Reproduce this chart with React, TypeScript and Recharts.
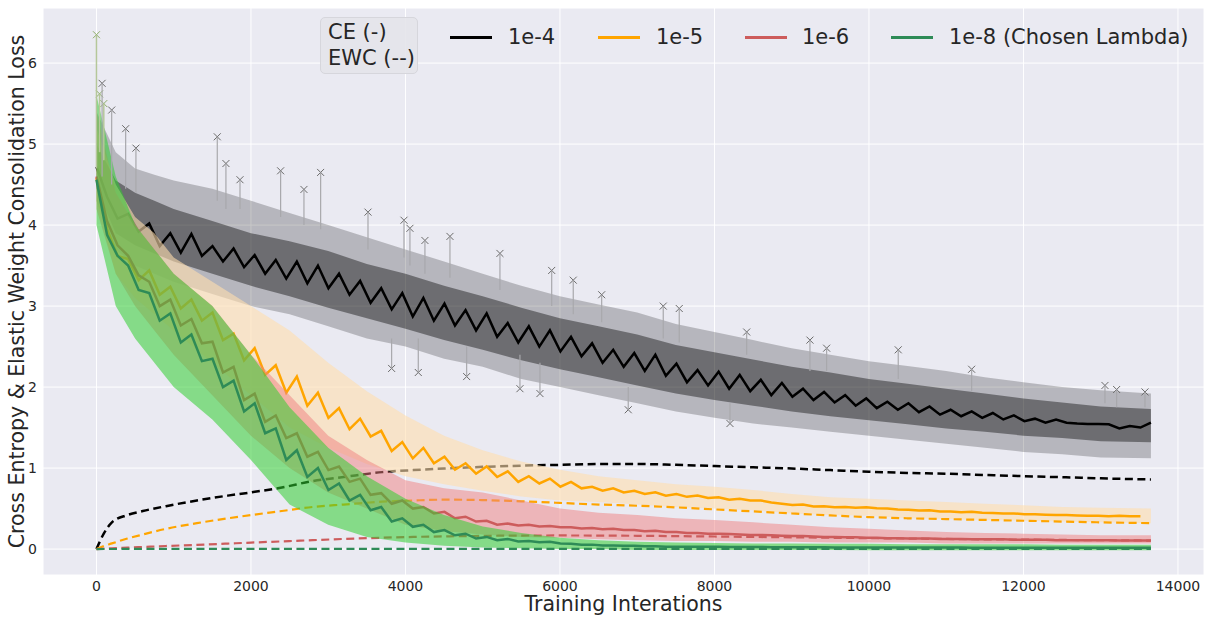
import React from 'react';
import {
    Area,
    CartesianGrid,
    ComposedChart,
    ErrorBar,
    Line,
    Scatter,
    XAxis,
    YAxis
} from 'recharts';

// training iterations (half-epoch steps) for the smoothed CE curves
const iterations = [0, 137, 273, 410, 546, 683, 819, 956, 1092, 1229, 1365, 1502, 1638, 1775, 1911, 2048, 2184, 2321, 2457, 2594, 2730, 2867, 3003, 3140, 3276, 3413, 3549, 3686, 3822, 3959, 4095, 4232, 4368, 4505, 4641, 4778, 4914, 5051, 5187, 5324, 5460, 5597, 5733, 5870, 6006, 6143, 6279, 6416, 6552, 6689, 6825, 6962, 7098, 7235, 7371, 7508, 7644, 7781, 7917, 8054, 8190, 8327, 8463, 8600, 8736, 8873, 9009, 9146, 9282, 9419, 9555, 9692, 9828, 9965, 10101, 10238, 10374, 10511, 10647, 10784, 10920, 11057, 11193, 11330, 11466, 11603, 11739, 11876, 12012, 12149, 12285, 12422, 12558, 12695, 12831, 12968, 13104, 13241, 13377, 13514, 13650];

const ce1e4 = [4.72, 4.35, 4.08, 4.14, 3.92, 4.02, 3.74, 3.90, 3.66, 3.89, 3.62, 3.74, 3.55, 3.71, 3.48, 3.63, 3.40, 3.57, 3.34, 3.55, 3.28, 3.50, 3.22, 3.40, 3.14, 3.31, 3.04, 3.22, 2.96, 3.16, 2.87, 3.10, 2.82, 3.03, 2.76, 2.95, 2.70, 2.91, 2.62, 2.79, 2.55, 2.75, 2.50, 2.70, 2.44, 2.62, 2.38, 2.54, 2.30, 2.46, 2.25, 2.42, 2.20, 2.40, 2.14, 2.29, 2.06, 2.21, 2.02, 2.19, 1.98, 2.15, 1.95, 2.09, 1.90, 2.05, 1.88, 1.98, 1.84, 1.94, 1.81, 1.90, 1.77, 1.86, 1.74, 1.82, 1.72, 1.80, 1.69, 1.76, 1.66, 1.72, 1.64, 1.70, 1.62, 1.68, 1.60, 1.65, 1.58, 1.61, 1.56, 1.60, 1.56, 1.55, 1.545, 1.545, 1.54, 1.49, 1.52, 1.50, 1.56];
const ce1e5 = [4.58, 3.95, 3.62, 3.58, 3.32, 3.44, 3.14, 3.24, 2.97, 3.08, 2.82, 2.92, 2.58, 2.66, 2.33, 2.48, 2.15, 2.27, 1.93, 2.13, 1.77, 1.93, 1.62, 1.74, 1.48, 1.61, 1.39, 1.46, 1.21, 1.32, 1.12, 1.25, 1.06, 1.14, 0.98, 1.06, 0.93, 1.02, 0.89, 0.96, 0.83, 0.90, 0.81, 0.87, 0.77, 0.83, 0.75, 0.77, 0.72, 0.75, 0.70, 0.72, 0.68, 0.70, 0.66, 0.68, 0.645, 0.66, 0.63, 0.64, 0.61, 0.62, 0.60, 0.60, 0.575, 0.56, 0.545, 0.55, 0.525, 0.53, 0.515, 0.52, 0.51, 0.515, 0.505, 0.50, 0.49, 0.485, 0.475, 0.48, 0.465, 0.465, 0.455, 0.46, 0.45, 0.445, 0.44, 0.44, 0.43, 0.43, 0.425, 0.42, 0.42, 0.415, 0.41, 0.41, 0.405, 0.41, 0.405, 0.405, null];
const ce1e6 = [4.60, 4.05, 3.75, 3.62, 3.38, 3.30, 3.00, 3.08, 2.76, 2.84, 2.54, 2.56, 2.18, 2.25, 1.84, 1.92, 1.57, 1.65, 1.37, 1.43, 1.14, 1.20, 0.975, 1.02, 0.83, 0.87, 0.67, 0.69, 0.56, 0.60, 0.50, 0.52, 0.44, 0.46, 0.38, 0.40, 0.34, 0.35, 0.30, 0.315, 0.29, 0.30, 0.28, 0.285, 0.27, 0.27, 0.255, 0.26, 0.245, 0.25, 0.235, 0.235, 0.22, 0.225, 0.21, 0.21, 0.20, 0.20, 0.19, 0.19, 0.185, 0.18, 0.175, 0.175, 0.17, 0.165, 0.16, 0.16, 0.155, 0.15, 0.15, 0.145, 0.145, 0.14, 0.14, 0.135, 0.135, 0.13, 0.13, 0.13, 0.125, 0.125, 0.125, 0.12, 0.12, 0.12, 0.12, 0.115, 0.115, 0.115, 0.115, 0.11, 0.11, 0.11, 0.11, 0.11, 0.11, 0.105, 0.105, 0.105, 0.105];
const ce1e8 = [4.56, 3.88, 3.62, 3.50, 3.20, 3.16, 2.82, 2.91, 2.55, 2.65, 2.32, 2.35, 2.00, 2.08, 1.70, 1.80, 1.43, 1.49, 1.10, 1.22, 0.89, 1.00, 0.73, 0.81, 0.60, 0.67, 0.48, 0.52, 0.34, 0.38, 0.275, 0.30, 0.21, 0.235, 0.17, 0.19, 0.13, 0.15, 0.11, 0.125, 0.095, 0.10, 0.085, 0.09, 0.07, 0.065, 0.055, 0.055, 0.045, 0.045, 0.04, 0.04, 0.035, 0.035, 0.03, 0.03, 0.03, 0.03, 0.028, 0.028, 0.026, 0.026, 0.025, 0.025, 0.024, 0.024, 0.023, 0.023, 0.022, 0.022, 0.021, 0.021, 0.02, 0.02, 0.02, 0.02, 0.019, 0.019, 0.019, 0.019, 0.018, 0.018, 0.018, 0.017, 0.017, 0.017, 0.017, 0.016, 0.016, 0.016, 0.016, 0.016, 0.015, 0.015, 0.015, 0.015, 0.015, 0.015, 0.015, 0.015, 0.015];

// EWC penalty curves
const ewcIters = [0, 100, 200, 400, 600, 900, 1300, 1700, 2000, 2400, 2800, 3200, 3700, 4100, 4500, 5000, 5500, 6000, 6500, 7000, 7500, 8000, 8500, 9000, 9500, 10000, 10500, 11000, 11500, 12000, 12500, 13000, 13650];
const ewc1e4 = [0, 0.2, 0.33, 0.42, 0.47, 0.53, 0.6, 0.66, 0.7, 0.76, 0.84, 0.89, 0.95, 0.975, 0.995, 1.015, 1.03, 1.04, 1.05, 1.05, 1.04, 1.025, 1.01, 0.995, 0.975, 0.955, 0.94, 0.93, 0.915, 0.9, 0.887, 0.873, 0.86];
const ewc1e5 = [0, 0.04, 0.07, 0.13, 0.18, 0.25, 0.32, 0.38, 0.42, 0.47, 0.52, 0.55, 0.585, 0.6, 0.61, 0.605, 0.59, 0.57, 0.55, 0.535, 0.515, 0.49, 0.465, 0.44, 0.415, 0.395, 0.38, 0.37, 0.36, 0.35, 0.34, 0.33, 0.32];
const ewc1e6 = [0, 0.005, 0.01, 0.018, 0.026, 0.038, 0.052, 0.068, 0.08, 0.095, 0.11, 0.125, 0.14, 0.15, 0.157, 0.163, 0.167, 0.168, 0.167, 0.164, 0.16, 0.155, 0.15, 0.145, 0.14, 0.135, 0.13, 0.125, 0.12, 0.117, 0.113, 0.11, 0.105];
const ewc1e8 = [0, 0.001, 0.001, 0.002, 0.002, 0.002, 0.003, 0.003, 0.003, 0.003, 0.003, 0.003, 0.003, 0.003, 0.003, 0.003, 0.003, 0.003, 0.003, 0.003, 0.003, 0.003, 0.003, 0.003, 0.003, 0.003, 0.003, 0.003, 0.003, 0.003, 0.003, 0.003, 0.003];

// spread of the raw per-iteration losses
const bandIters = [0, 250, 500, 750, 1000, 1500, 2000, 2500, 3000, 3500, 4000, 4500, 5000, 5500, 6000, 6500, 7000, 7500, 8000, 8500, 9000, 9500, 10000, 10500, 11000, 11500, 12000, 12500, 13000, 13650];
const raw1e4Low = [4.3, 3.7, 3.5, 3.4, 3.3, 3.15, 3.0, 2.9, 2.75, 2.6, 2.5, 2.35, 2.25, 2.1, 2.0, 1.9, 1.8, 1.7, 1.62, 1.55, 1.5, 1.45, 1.4, 1.35, 1.3, 1.25, 1.2, 1.17, 1.13, 1.12];
const raw1e4High = [5.4, 4.9, 4.7, 4.62, 4.55, 4.45, 4.3, 4.15, 4.0, 3.85, 3.7, 3.55, 3.4, 3.25, 3.12, 3.02, 2.92, 2.78, 2.68, 2.58, 2.48, 2.4, 2.32, 2.26, 2.2, 2.12, 2.06, 2.0, 1.96, 1.92];
const raw1e4CoreLow = [4.45, 3.9, 3.75, 3.65, 3.55, 3.4, 3.25, 3.12, 2.98, 2.85, 2.72, 2.58, 2.46, 2.33, 2.22, 2.12, 2.02, 1.92, 1.84, 1.77, 1.7, 1.64, 1.59, 1.54, 1.49, 1.45, 1.4, 1.37, 1.33, 1.32];
const raw1e4CoreHigh = [5.0, 4.55, 4.4, 4.3, 4.2, 4.05, 3.9, 3.8, 3.68, 3.52, 3.4, 3.25, 3.12, 2.98, 2.85, 2.75, 2.65, 2.52, 2.43, 2.34, 2.25, 2.18, 2.1, 2.04, 1.98, 1.92, 1.86, 1.81, 1.76, 1.73];
const raw1e5Low = [4.3, 3.4, 3.1, 2.9, 2.7, 2.3, 1.9, 1.5, 1.25, 1.05, 0.9, 0.8, 0.72, 0.65, 0.6, 0.58, 0.55, 0.52, 0.5, 0.48, 0.44, 0.42, 0.41, 0.38, 0.37, 0.36, 0.35, 0.34, 0.33, 0.32];
const raw1e5High = [5.2, 4.5, 4.1, 3.9, 3.6, 3.3, 3.0, 2.7, 2.3, 1.95, 1.65, 1.4, 1.22, 1.08, 0.98, 0.9, 0.85, 0.8, 0.77, 0.73, 0.68, 0.64, 0.62, 0.6, 0.58, 0.56, 0.54, 0.52, 0.51, 0.5];
const raw1e6Low = [4.2, 3.4, 3.0, 2.7, 2.4, 1.9, 1.4, 1.0, 0.7, 0.5, 0.3, 0.22, 0.18, 0.15, 0.14, 0.12, 0.11, 0.1, 0.1, 0.09, 0.09, 0.08, 0.08, 0.08, 0.07, 0.07, 0.07, 0.07, 0.07, 0.07];
const raw1e6High = [5.4, 4.4, 4.0, 3.7, 3.4, 3.0, 2.4, 1.9, 1.4, 1.1, 0.85, 0.75, 0.7, 0.6, 0.5, 0.45, 0.42, 0.38, 0.36, 0.33, 0.3, 0.27, 0.25, 0.23, 0.21, 0.2, 0.19, 0.18, 0.17, 0.17];
const raw1e8Low = [4.0, 3.0, 2.6, 2.3, 2.0, 1.6, 1.1, 0.55, 0.3, 0.15, 0.08, 0.04, 0.02, 0.01, 0.0, 0.0, -0.01, -0.01, -0.01, -0.01, -0.01, -0.01, -0.015, -0.015, -0.015, -0.015, -0.015, -0.015, -0.015, -0.015];
const raw1e8High = [5.6, 4.6, 4.0, 3.7, 3.4, 3.0, 2.4, 1.75, 1.25, 0.9, 0.62, 0.42, 0.28, 0.2, 0.14, 0.11, 0.09, 0.08, 0.075, 0.07, 0.07, 0.065, 0.065, 0.06, 0.06, 0.06, 0.06, 0.055, 0.055, 0.055];

// outlier losses (marker value and the other end of its whisker)
const spike1e4Iters = [73, 197, 378, 511, 1564, 1676, 1858, 2384, 2686, 2902, 3515, 3821, 3981, 4058, 4166, 4252, 4576, 4792, 5223, 5482, 5741, 5893, 6172, 6540, 6884, 7337, 7544, 8201, 8417, 9236, 9452, 10379, 11329, 13055, 13206, 13573];
const spike1e4Vals = [5.75, 5.42, 5.19, 4.95, 5.09, 4.76, 4.56, 4.67, 4.44, 4.65, 4.16, 2.23, 4.06, 3.96, 2.18, 3.81, 3.86, 2.13, 3.65, 1.98, 1.92, 3.44, 3.32, 3.14, 1.72, 3.0, 2.97, 1.55, 2.68, 2.58, 2.48, 2.46, 2.22, 2.02, 1.97, 1.94];
const spike1e4Ends = [4.6, 4.5, 4.45, 4.4, 4.3, 4.2, 4.2, 4.1, 4.0, 3.95, 3.7, 2.6, 3.6, 3.5, 2.6, 3.4, 3.35, 2.5, 3.2, 2.4, 2.3, 3.0, 2.9, 2.8, 2.0, 2.6, 2.55, 1.8, 2.4, 2.2, 2.2, 2.1, 1.95, 1.8, 1.75, 1.75];
const spike1e8Iters = [0, 40, 95];
const spike1e8Vals = [6.35, 5.62, 5.5];
const spike1e8Ends = [4.7, 4.9, 4.8];

const xTicks = [0, 2000, 4000, 6000, 8000, 10000, 12000, 14000];
const yTicks = [0, 1, 2, 3, 4, 5, 6];

const FONT = "'DejaVu Sans', sans-serif";
const TEXT = '#262626';

const lineRows = (vals: (number | null)[]) => iterations.map((x, i) => ({ x, y: vals[i] }));
const ewcRows = (vals: number[]) => ewcIters.map((x, i) => ({ x, y: vals[i] }));
const bandRows = (lo: number[], hi: number[]) => bandIters.map((x, i) => ({ x, range: [lo[i], hi[i]] }));
const spikeRows = (xs: number[], vs: number[], ends: number[]) =>
    xs.map((x, i) => ({ x, y: vs[i], err: [Math.max(0, vs[i] - ends[i]), Math.max(0, ends[i] - vs[i])] }));

const XMark = (props: any) => {
    const { cx, cy, stroke } = props;
    if (cx == null || cy == null) return null;
    const s = 3.5;
    return (
        <path
            d={`M${cx - s},${cy - s}L${cx + s},${cy + s}M${cx - s},${cy + s}L${cx + s},${cy - s}`}
            stroke={stroke}
            strokeWidth={1}
            fill="none"
        />
    );
};

const series = [
    { name: '1e-4', color: '#000000', band: '#000000', bandOpacity: 0.22, ce: ce1e4, ewc: ewc1e4, ewcWidth: 2.5, lo: raw1e4Low, hi: raw1e4High },
    { name: '1e-5', color: '#FFA500', band: '#FFDEAD', bandOpacity: 0.6, ce: ce1e5, ewc: ewc1e5, ewcWidth: 2.2, lo: raw1e5Low, hi: raw1e5High },
    { name: '1e-6', color: '#CD5C5C', band: '#F08080', bandOpacity: 0.5, ce: ce1e6, ewc: ewc1e6, ewcWidth: 2.2, lo: raw1e6Low, hi: raw1e6High },
    { name: '1e-8 (Chosen Lambda)', color: '#2E8B57', band: '#32CD32', bandOpacity: 0.55, ce: ce1e8, ewc: ewc1e8, ewcWidth: 2.2, lo: raw1e8Low, hi: raw1e8High },
];

const legendItems = [
    { left: 450, text: 508 },
    { left: 598, text: 656 },
    { left: 745, text: 802 },
    { left: 891, text: 949 },
];

const App: React.FC = () => {
    // layer order follows the plotting order: each lambda's cloud, curve and penalty in turn
    let z = 110;
    const next = () => (z += 5);

    return (
        <div style={{ position: 'absolute', left: 0, top: 0, width: 1213, height: 617, background: '#fff', fontFamily: FONT }}>
            <ComposedChart width={1213} height={617} margin={{ top: 8, right: 9, left: 0, bottom: 0 }}>
                <CartesianGrid fill="#EAEAF2" stroke="#ffffff" strokeWidth={1} />
                <XAxis
                    type="number"
                    dataKey="x"
                    domain={[-692, 14337]}
                    ticks={xTicks}
                    allowDataOverflow
                    height={42}
                    axisLine={false}
                    tickLine={false}
                    tickSize={6}
                    tickMargin={0}
                    tick={{ fontSize: 14, fill: TEXT, fontFamily: FONT }}
                    label={{ value: 'Training Interations', position: 'insideBottom', offset: 6, fontSize: 20.5, fill: TEXT, fontFamily: FONT }}
                />
                <YAxis
                    type="number"
                    domain={[-0.32, 6.68]}
                    ticks={yTicks}
                    allowDataOverflow
                    width={43}
                    axisLine={false}
                    tickLine={false}
                    tickSize={6}
                    tickMargin={0}
                    tick={{ fontSize: 14, fill: TEXT, fontFamily: FONT }}
                    label={{
                        value: 'Cross Entropy & Elastic Weight Consolidation Loss',
                        angle: -90,
                        position: 'insideLeft',
                        offset: 16.5,
                        fontSize: 20.5,
                        fill: TEXT,
                        fontFamily: FONT,
                        style: { textAnchor: 'middle' }
                    }}
                />

                {series.map((s, idx) => [
                    <Area
                        key={`band-${idx}`}
                        zIndex={next()}
                        data={bandRows(s.lo, s.hi)}
                        dataKey="range"
                        type="linear"
                        stroke="none"
                        fill={s.band}
                        fillOpacity={s.bandOpacity}
                        isAnimationActive={false}
                    />,
                    idx === 0 ? (
                        <Area
                            key="core-0"
                            zIndex={next()}
                            data={bandRows(raw1e4CoreLow, raw1e4CoreHigh)}
                            dataKey="range"
                            type="linear"
                            stroke="none"
                            fill="#000000"
                            fillOpacity={0.4}
                            isAnimationActive={false}
                        />
                    ) : null,
                    idx === 0 ? (
                        <Scatter
                            key="spikes-0"
                            zIndex={next()}
                            data={spikeRows(spike1e4Iters, spike1e4Vals, spike1e4Ends)}
                            dataKey="y"
                            stroke="#6a6a6a"
                            shape={<XMark stroke="#6a6a6a" />}
                            isAnimationActive={false}
                        >
                            <ErrorBar dataKey="err" direction="y" width={0} stroke="#a8a8ac" strokeWidth={1.2} />
                        </Scatter>
                    ) : null,
                    idx === 3 ? (
                        <Scatter
                            key="spikes-3"
                            zIndex={next()}
                            data={spikeRows(spike1e8Iters, spike1e8Vals, spike1e8Ends)}
                            dataKey="y"
                            stroke="#9DB67A"
                            shape={<XMark stroke="#8FAE6A" />}
                            isAnimationActive={false}
                        >
                            <ErrorBar dataKey="err" direction="y" width={0} stroke="#B5C79A" strokeWidth={1.5} />
                        </Scatter>
                    ) : null,
                    <Line
                        key={`ce-${idx}`}
                        zIndex={next()}
                        data={lineRows(s.ce)}
                        dataKey="y"
                        type="linear"
                        stroke={s.color}
                        strokeWidth={2.5}
                        dot={false}
                        isAnimationActive={false}
                    />,
                    <Line
                        key={`ewc-${idx}`}
                        zIndex={next()}
                        data={ewcRows(s.ewc)}
                        dataKey="y"
                        type="monotone"
                        stroke={s.color}
                        strokeWidth={s.ewcWidth}
                        strokeDasharray="8 4.5"
                        dot={false}
                        isAnimationActive={false}
                    />
                ])}
            </ComposedChart>

            <div
                style={{
                    position: 'absolute', left: 320, top: 17, width: 98, height: 57, boxSizing: 'border-box',
                    background: 'rgba(228,228,234,0.9)', border: '1px solid #D6D6DC', borderRadius: 5,
                    padding: '1px 0 0 7px', fontSize: 21, lineHeight: '26px', color: TEXT, whiteSpace: 'nowrap'
                }}
            >
                CE (-)<br />EWC (--)
            </div>
            {series.map((s, i) => (
                <React.Fragment key={s.name}>
                    <div style={{ position: 'absolute', left: legendItems[i].left, top: 36, width: 42, height: 3, background: s.color }} />
                    <div style={{ position: 'absolute', left: legendItems[i].text, top: 24, fontSize: 21, lineHeight: '26px', color: TEXT, whiteSpace: 'nowrap' }}>
                        {s.name}
                    </div>
                </React.Fragment>
            ))}
        </div>
    );
};

export default App;
